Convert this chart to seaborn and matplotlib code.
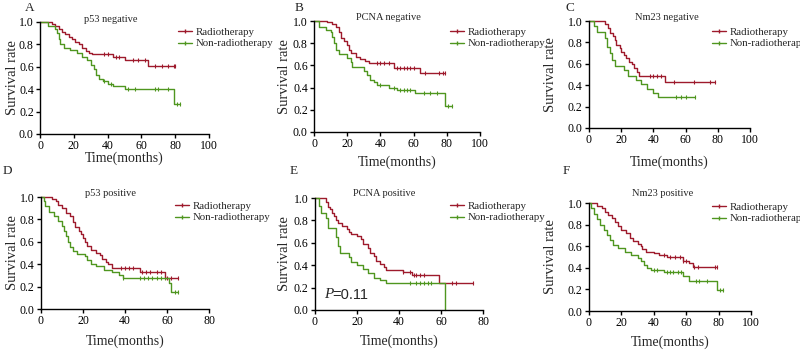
import numpy as np
import pandas as pd
import matplotlib
matplotlib.use("Agg")
import matplotlib.pyplot as plt
from matplotlib.lines import Line2D
import seaborn as sns

sns.set_style("ticks")
plt.rcParams["font.family"] = ["Liberation Serif", "DejaVu Serif"]

RED = "#9e1a2c"
GREEN = "#4f961f"
groups = ["Radiotherapy", "Non-radiotherapy"]

# ---------------- data (step times, survival after step, censor times) -------------
A_rad_t = [7, 9, 11, 13, 15, 17, 19, 21, 23, 25, 27, 29, 31, 43, 50, 64]
A_rad_s = [0.98, 0.96, 0.94, 0.91, 0.89, 0.87, 0.85, 0.82, 0.80, 0.77, 0.74, 0.72, 0.71, 0.69, 0.66, 0.61]
A_rad_c = [38, 40, 45, 47, 55, 58, 62, 68, 72, 76, 79, 80]
A_non_t = [5, 9, 10, 11, 12, 14, 18, 22, 25, 28, 30, 32, 33, 35, 37, 40, 43, 50, 79]
A_non_s = [0.96, 0.94, 0.90, 0.85, 0.80, 0.77, 0.75, 0.72, 0.69, 0.66, 0.62, 0.58, 0.53, 0.49, 0.47, 0.45, 0.43, 0.40, 0.27]
A_non_c = [38, 42, 52, 56, 68, 70, 76, 81, 83]

B_rad_t = [8, 11, 13, 15, 16, 18, 20, 21, 22, 25, 28, 31, 33, 48, 64]
B_rad_s = [0.99, 0.97, 0.95, 0.90, 0.85, 0.82, 0.78, 0.74, 0.71, 0.68, 0.66, 0.64, 0.62, 0.58, 0.53]
B_rad_c = [38, 40, 42, 45, 50, 52, 54, 56, 58, 60, 67, 75, 78, 79]
B_non_t = [3, 7, 10, 11, 12, 13, 15, 20, 22, 23, 30, 32, 34, 36, 38, 45, 50, 61, 79]
B_non_s = [0.95, 0.92, 0.90, 0.86, 0.80, 0.74, 0.70, 0.67, 0.63, 0.59, 0.55, 0.51, 0.47, 0.45, 0.42, 0.40, 0.38, 0.35, 0.23]
B_non_c = [40, 48, 52, 54, 56, 58, 66, 70, 74, 81, 83]

C_rad_t = [10, 12, 13, 15, 16, 17, 19, 20, 22, 23, 25, 27, 28, 30, 31, 47]
C_rad_s = [0.97, 0.93, 0.89, 0.86, 0.82, 0.78, 0.75, 0.71, 0.68, 0.65, 0.62, 0.60, 0.56, 0.52, 0.49, 0.43]
C_rad_c = [38, 40, 42, 45, 53, 65, 75, 78]
C_non_t = [3, 5, 10, 11, 13, 14, 16, 22, 24, 29, 32, 36, 40, 43]
C_non_s = [0.95, 0.90, 0.84, 0.76, 0.70, 0.64, 0.58, 0.54, 0.49, 0.45, 0.41, 0.36, 0.33, 0.29]
C_non_c = [54, 57, 60, 66]

D_rad_t = [5, 7, 8, 10, 12, 14, 15, 16, 18, 19, 20, 21, 22, 24, 26, 28, 29, 31, 32, 34, 47, 59]
D_rad_s = [0.98, 0.96, 0.93, 0.90, 0.86, 0.83, 0.78, 0.73, 0.70, 0.67, 0.63, 0.60, 0.56, 0.53, 0.50, 0.48, 0.45, 0.42, 0.40, 0.37, 0.33, 0.28]
D_rad_c = [38, 40, 42, 44, 48, 50, 52, 55, 57, 60, 62, 65]
D_non_t = [1.5, 2, 4, 6, 8, 10, 11, 12, 13, 14, 15, 17, 21, 22, 24, 26, 30, 34, 37, 39, 61, 62]
D_non_s = [0.96, 0.92, 0.87, 0.83, 0.79, 0.74, 0.70, 0.65, 0.60, 0.55, 0.52, 0.49, 0.47, 0.44, 0.40, 0.38, 0.35, 0.33, 0.30, 0.28, 0.23, 0.15]
D_non_c = [39, 47, 49, 51, 53, 55, 57, 59, 64, 65]

E_rad_t = [5, 6, 7, 8, 9, 10, 11, 13, 15, 16, 17, 20, 22, 23, 25, 26, 28, 29, 31, 33, 34, 42, 46, 59]
E_rad_s = [0.96, 0.92, 0.90, 0.87, 0.84, 0.80, 0.78, 0.75, 0.72, 0.70, 0.68, 0.66, 0.63, 0.59, 0.55, 0.51, 0.48, 0.44, 0.41, 0.38, 0.36, 0.34, 0.31, 0.24]
E_rad_c = [42, 45, 47, 48, 50, 52, 65, 67, 75]
E_non_t = [2, 3, 5, 6, 10, 11, 12, 16, 17, 20, 23, 25, 28, 31, 34, 62]
E_non_s = [0.93, 0.87, 0.82, 0.73, 0.65, 0.57, 0.51, 0.47, 0.43, 0.40, 0.37, 0.33, 0.29, 0.27, 0.24, 0.0]
E_non_c = [45, 48, 50, 52, 54, 55]

F_rad_t = [5, 8, 10, 12, 14, 16, 18, 20, 23, 25, 27, 30, 32, 33, 35, 40, 43, 48, 58, 62, 64]
F_rad_s = [0.97, 0.95, 0.92, 0.89, 0.86, 0.82, 0.79, 0.75, 0.72, 0.68, 0.65, 0.62, 0.60, 0.57, 0.55, 0.54, 0.52, 0.50, 0.46, 0.44, 0.41]
F_rad_c = [46, 50, 53, 56, 58, 60, 65, 67, 78, 79]
F_non_t = [1, 3, 5, 7, 9, 11, 13, 15, 18, 22, 26, 30, 32, 34, 36, 38, 46, 58, 62, 79]
F_non_s = [0.95, 0.90, 0.85, 0.80, 0.75, 0.70, 0.66, 0.61, 0.58, 0.55, 0.52, 0.49, 0.46, 0.43, 0.40, 0.38, 0.36, 0.32, 0.28, 0.19]
F_non_c = [40, 42, 48, 50, 52, 55, 57, 66, 68, 73, 81, 83]

letters = ["A", "B", "C", "D", "E", "F"]
titles = ["p53 negative", "PCNA negative", "Nm23 negative",
          "p53 positive", "PCNA positive", "Nm23 positive"]
xmaxes = [100, 100, 100, 80, 80, 100]
xticks_list = [[0, 20, 40, 60, 80, 100]] * 3 + [[0, 20, 40, 60, 80]] * 2 + [[0, 20, 40, 60, 80, 100]]
y_ticks = [0.0, 0.2, 0.4, 0.6, 0.8, 1.0]
y_ticklabels = ["0.0", "0.2", "0.4", "0.6", "0.8", "1.0"]

series = [
    (A_rad_t, A_rad_s, A_rad_c, A_non_t, A_non_s, A_non_c),
    (B_rad_t, B_rad_s, B_rad_c, B_non_t, B_non_s, B_non_c),
    (C_rad_t, C_rad_s, C_rad_c, C_non_t, C_non_s, C_non_c),
    (D_rad_t, D_rad_s, D_rad_c, D_non_t, D_non_s, D_non_c),
    (E_rad_t, E_rad_s, E_rad_c, E_non_t, E_non_s, E_non_c),
    (F_rad_t, F_rad_s, F_rad_c, F_non_t, F_non_s, F_non_c),
]

# ---------------- layout (pixels) ----------------
W, H = 800, 352
boxes = [(40, 209, 22, 134), (314, 480, 21, 132), (589, 750, 21, 128),
         (41, 209, 197, 309), (315, 483, 198, 310), (589, 751, 203, 311)]
xlabel_pad = [24, 30, 34, 32, 31, 31]
ylabel_off = [27, 30, 38, 28, 31, 38]
title_pos = [(111, 19), (388, 18), (667, 18), (110, 193), (384, 193), (663, 193)]
legend_pos = [(178, 27), (450, 27), (712, 27), (175, 201), (450, 201), (712, 202)]
letter_pos = [(25, 8), (295, 8), (565, 8), (3, 171), (290, 171), (563, 171)]

fig = plt.figure(figsize=(8, 3.52), dpi=100)


def steps(t, s, c):
    end = max(max(t), max(c)) if len(c) else max(t)
    xs = [0] + list(t)
    ys = [1.0] + list(s)
    if end > t[-1]:
        xs.append(end)
        ys.append(s[-1])
    return xs, ys


def surv_at(t, s, x):
    tt = np.array([0] + list(t), dtype=float)
    ss = np.array([1.0] + list(s))
    return ss[np.searchsorted(tt, x, side="right") - 1]


for i, (L, R, T, B) in enumerate(boxes):
    ax = fig.add_axes([L / W, 1 - B / H, (R - L) / W, (B - T) / H])
    rt, rs, rc, nt, ns, nc = series[i]
    rows = []
    for g, (t, s, c) in zip(groups, [(rt, rs, rc), (nt, ns, nc)]):
        xs, ys = steps(t, s, c)
        for k, (x, y) in enumerate(zip(xs, ys)):
            rows.append({"t": x, "s": y, "group": g, "order": k})
    df = pd.DataFrame(rows)
    sns.lineplot(data=df, x="t", y="s", hue="group", palette=[RED, GREEN],
                 hue_order=groups, drawstyle="steps-post", estimator=None,
                 sort=False, legend=False, linewidth=1.0, ax=ax)
    for col, (t, s, c) in zip([RED, GREEN], [(rt, rs, rc), (nt, ns, nc)]):
        cs = [surv_at(t, s, x) for x in c]
        sns.scatterplot(x=c, y=cs, marker="|", s=12, color=col, linewidth=0.8,
                        ax=ax, legend=False, clip_on=False)
    for ln in ax.lines:
        ln.set_clip_on(False)
    ax.set_xlim(0, xmaxes[i])
    ax.set_ylim(0, 1.0)
    ax.set_xticks(xticks_list[i])
    ax.set_xticklabels([str(v) for v in xticks_list[i]], fontsize=8.5)
    ax.set_yticks(y_ticks)
    ax.set_yticklabels(y_ticklabels, fontsize=8.5)
    ax.tick_params(direction="out", length=3, width=1, pad=1.5, colors="black")
    sns.despine(ax=ax)
    for sp in ["left", "bottom"]:
        ax.spines[sp].set_linewidth(1.0)
        ax.spines[sp].set_color("black")
    ax.set_xlabel("Time(months)", fontsize=10)
    ax.set_ylabel("Survival rate", fontsize=10.5)
    ax.xaxis.set_label_coords(0.5, -xlabel_pad[i] / (B - T))
    ax.xaxis.label.set_verticalalignment("center")
    ax.yaxis.set_label_coords(-ylabel_off[i] / (R - L), 0.5)
    ax.yaxis.label.set_verticalalignment("center")

    tx, ty = title_pos[i]
    fig.text(tx / W, 1 - ty / H, titles[i], fontsize=7.5, ha="center", va="center")
    lx, ly = letter_pos[i]
    fig.text(lx / W, 1 - ly / H, letters[i], fontsize=9.5, ha="left", va="center")

    handles = [Line2D([0], [0], color=RED, lw=1.0, marker="|", markersize=3),
               Line2D([0], [0], color=GREEN, lw=1.0, marker="|", markersize=3)]
    gx, gy = legend_pos[i]
    ax.legend(handles=handles, labels=groups, loc="upper left",
              bbox_to_anchor=(gx / W, 1 - gy / H), bbox_transform=fig.transFigure,
              frameon=False, fontsize=7.8, handlelength=1.3, handletextpad=0.35,
              borderpad=0, borderaxespad=0, labelspacing=0.2)

    if i == 4:
        fig.text(324 / W, 1 - 295 / H, "P", fontsize=11, style="italic",
                 ha="left", va="center")
        fig.text(332 / W, 1 - 295 / H, "=0.11", fontsize=10.5,
                 family=["Liberation Sans"], ha="left", va="center")

fig.savefig("out.png", dpi=100)
